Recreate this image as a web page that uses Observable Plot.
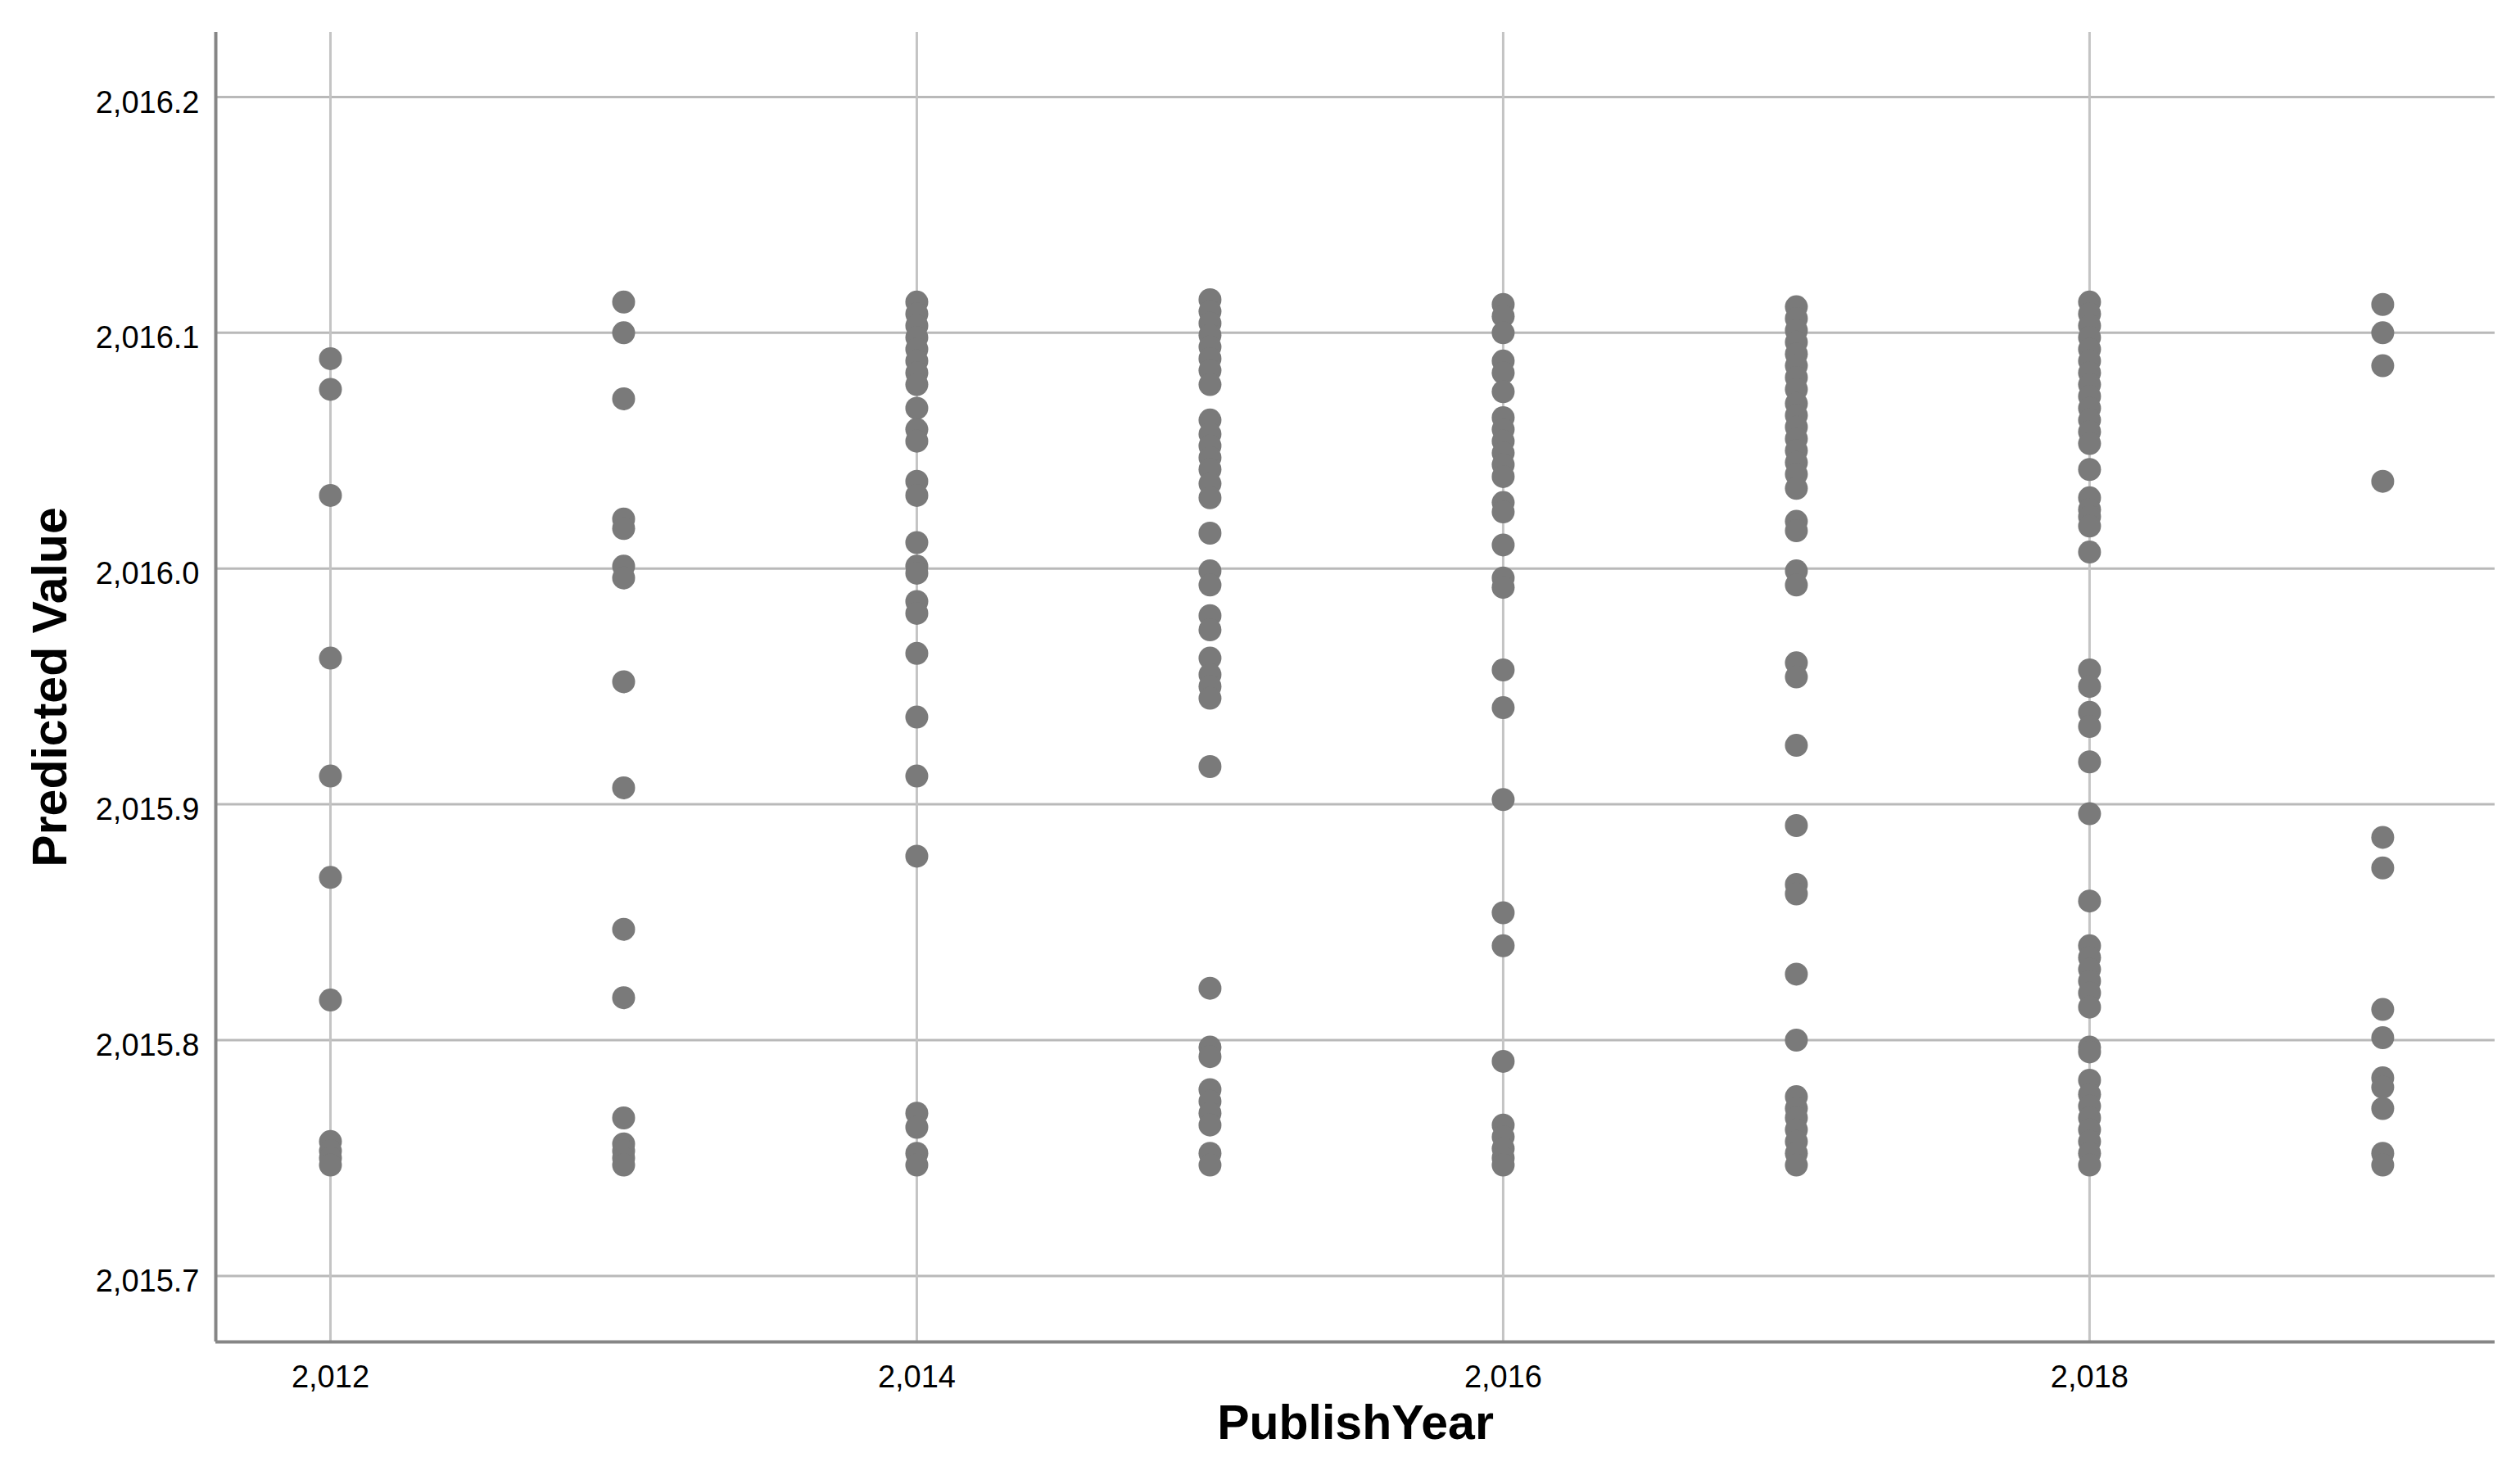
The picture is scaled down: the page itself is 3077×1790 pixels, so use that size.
<!DOCTYPE html>
<html>
<head>
<meta charset="utf-8">
<script src="https://cdn.jsdelivr.net/npm/d3@7"></script>
<script src="https://cdn.jsdelivr.net/npm/@observablehq/plot@0.6"></script>
<style>
  html, body { margin: 0; padding: 0; background: #fff; }
  svg { display: block; }
</style>
</head>
<body>
<div id="chart"></div>
<script>
// ---- Data ----
const years = [2012, 2013, 2014, 2015, 2016, 2017, 2018, 2019];

const pred2012 = [2016.089, 2016.076, 2016.031, 2015.962, 2015.912, 2015.869, 2015.817, 2015.757, 2015.753, 2015.750, 2015.747];
const pred2013 = [2016.113, 2016.100, 2016.072, 2016.021, 2016.017, 2016.001, 2015.996, 2015.952, 2015.907, 2015.847, 2015.818, 2015.767, 2015.756, 2015.753, 2015.750, 2015.747];
const pred2014 = [2016.113, 2016.108, 2016.103, 2016.098, 2016.093, 2016.088, 2016.083, 2016.078, 2016.068, 2016.059, 2016.054, 2016.037, 2016.031, 2016.011, 2016.001, 2015.998, 2015.986, 2015.981, 2015.964, 2015.937, 2015.912, 2015.878, 2015.769, 2015.763, 2015.752, 2015.747];
const pred2015 = [2016.114, 2016.109, 2016.104, 2016.099, 2016.094, 2016.089, 2016.084, 2016.078, 2016.063, 2016.057, 2016.052, 2016.047, 2016.042, 2016.036, 2016.030, 2016.015, 2015.999, 2015.993, 2015.980, 2015.974, 2015.962, 2015.955, 2015.950, 2015.945, 2015.916, 2015.822, 2015.797, 2015.793, 2015.779, 2015.774, 2015.769, 2015.764, 2015.752, 2015.747];
const pred2016 = [2016.112, 2016.107, 2016.100, 2016.088, 2016.083, 2016.075, 2016.064, 2016.059, 2016.054, 2016.049, 2016.044, 2016.039, 2016.028, 2016.024, 2016.010, 2015.996, 2015.992, 2015.957, 2015.941, 2015.902, 2015.854, 2015.840, 2015.791, 2015.764, 2015.759, 2015.754, 2015.750, 2015.747];
const pred2017 = [2016.111, 2016.106, 2016.101, 2016.096, 2016.091, 2016.086, 2016.081, 2016.076, 2016.070, 2016.065, 2016.060, 2016.055, 2016.050, 2016.045, 2016.040, 2016.034, 2016.020, 2016.016, 2015.999, 2015.993, 2015.960, 2015.954, 2015.925, 2015.891, 2015.866, 2015.862, 2015.828, 2015.800, 2015.776, 2015.771, 2015.767, 2015.762, 2015.757, 2015.752, 2015.747];
const pred2018 = [2016.113, 2016.108, 2016.103, 2016.098, 2016.093, 2016.088, 2016.083, 2016.078, 2016.073, 2016.068, 2016.063, 2016.058, 2016.053, 2016.042, 2016.030, 2016.025, 2016.022, 2016.018, 2016.007, 2015.957, 2015.950, 2015.939, 2015.933, 2015.918, 2015.896, 2015.859, 2015.840, 2015.835, 2015.830, 2015.825, 2015.820, 2015.814, 2015.797, 2015.795, 2015.783, 2015.777, 2015.772, 2015.767, 2015.762, 2015.757, 2015.752, 2015.747];
const pred2019 = [2016.112, 2016.100, 2016.086, 2016.037, 2015.886, 2015.873, 2015.813, 2015.801, 2015.784, 2015.780, 2015.771, 2015.752, 2015.747];

const yTicks = [2015.7, 2015.8, 2015.9, 2016.0, 2016.1, 2016.2];
const xTicks = [2012, 2014, 2016, 2018];
const xDomain = [2011.609, 2019.383];
const yDomain = [2015.672, 2016.2274];

const xTitle = "PublishYear";
const yTitle = "Predicted Value";

// ---- Build table ----
const series = [pred2012, pred2013, pred2014, pred2015, pred2016, pred2017, pred2018, pred2019];
const data = [];
years.forEach((yr, i) => series[i].forEach(v => data.push({year: yr, value: v})));

const chart = Plot.plot({
  width: 3077,
  height: 1790,
  marginLeft: 263,
  marginRight: 31,
  marginTop: 39,
  marginBottom: 152,
  style: {fontFamily: "'Liberation Sans', Arial, sans-serif", color: "#000", background: "#fff"},
  x: {domain: xDomain},
  y: {domain: yDomain},
  marks: [
    Plot.gridY(yTicks, {stroke: "#b9b9b9", strokeOpacity: 1, strokeWidth: 3}),
    Plot.gridX(xTicks, {stroke: "#c4c4c4", strokeOpacity: 1, strokeWidth: 3}),
    Plot.ruleX([xDomain[0]], {stroke: "#868686", strokeWidth: 4}),
    Plot.ruleY([yDomain[0]], {stroke: "#868686", strokeWidth: 4}),
    Plot.dot(data, {x: "year", y: "value", r: 14, fill: "#7a7a7a", stroke: null}),
    Plot.axisY(yTicks, {tickFormat: d3.format(",.1f"), tickSize: 0, tickPadding: 20, fontSize: 38, dy: 7, label: null}),
    Plot.axisX(xTicks, {tickFormat: d3.format(","), tickSize: 0, tickPadding: 29, fontSize: 38, label: null}),
    Plot.text([xTitle], {frameAnchor: "bottom", textAnchor: "middle", lineAnchor: "top", dy: 77, fontSize: 59, fontWeight: "bold", fill: "#000"}),
    Plot.text([yTitle], {frameAnchor: "left", textAnchor: "middle", lineAnchor: "middle", rotate: -90, dx: -201, fontSize: 59, fontWeight: "bold", fill: "#000"})
  ]
});
document.getElementById("chart").appendChild(chart);
</script>
</body>
</html>
